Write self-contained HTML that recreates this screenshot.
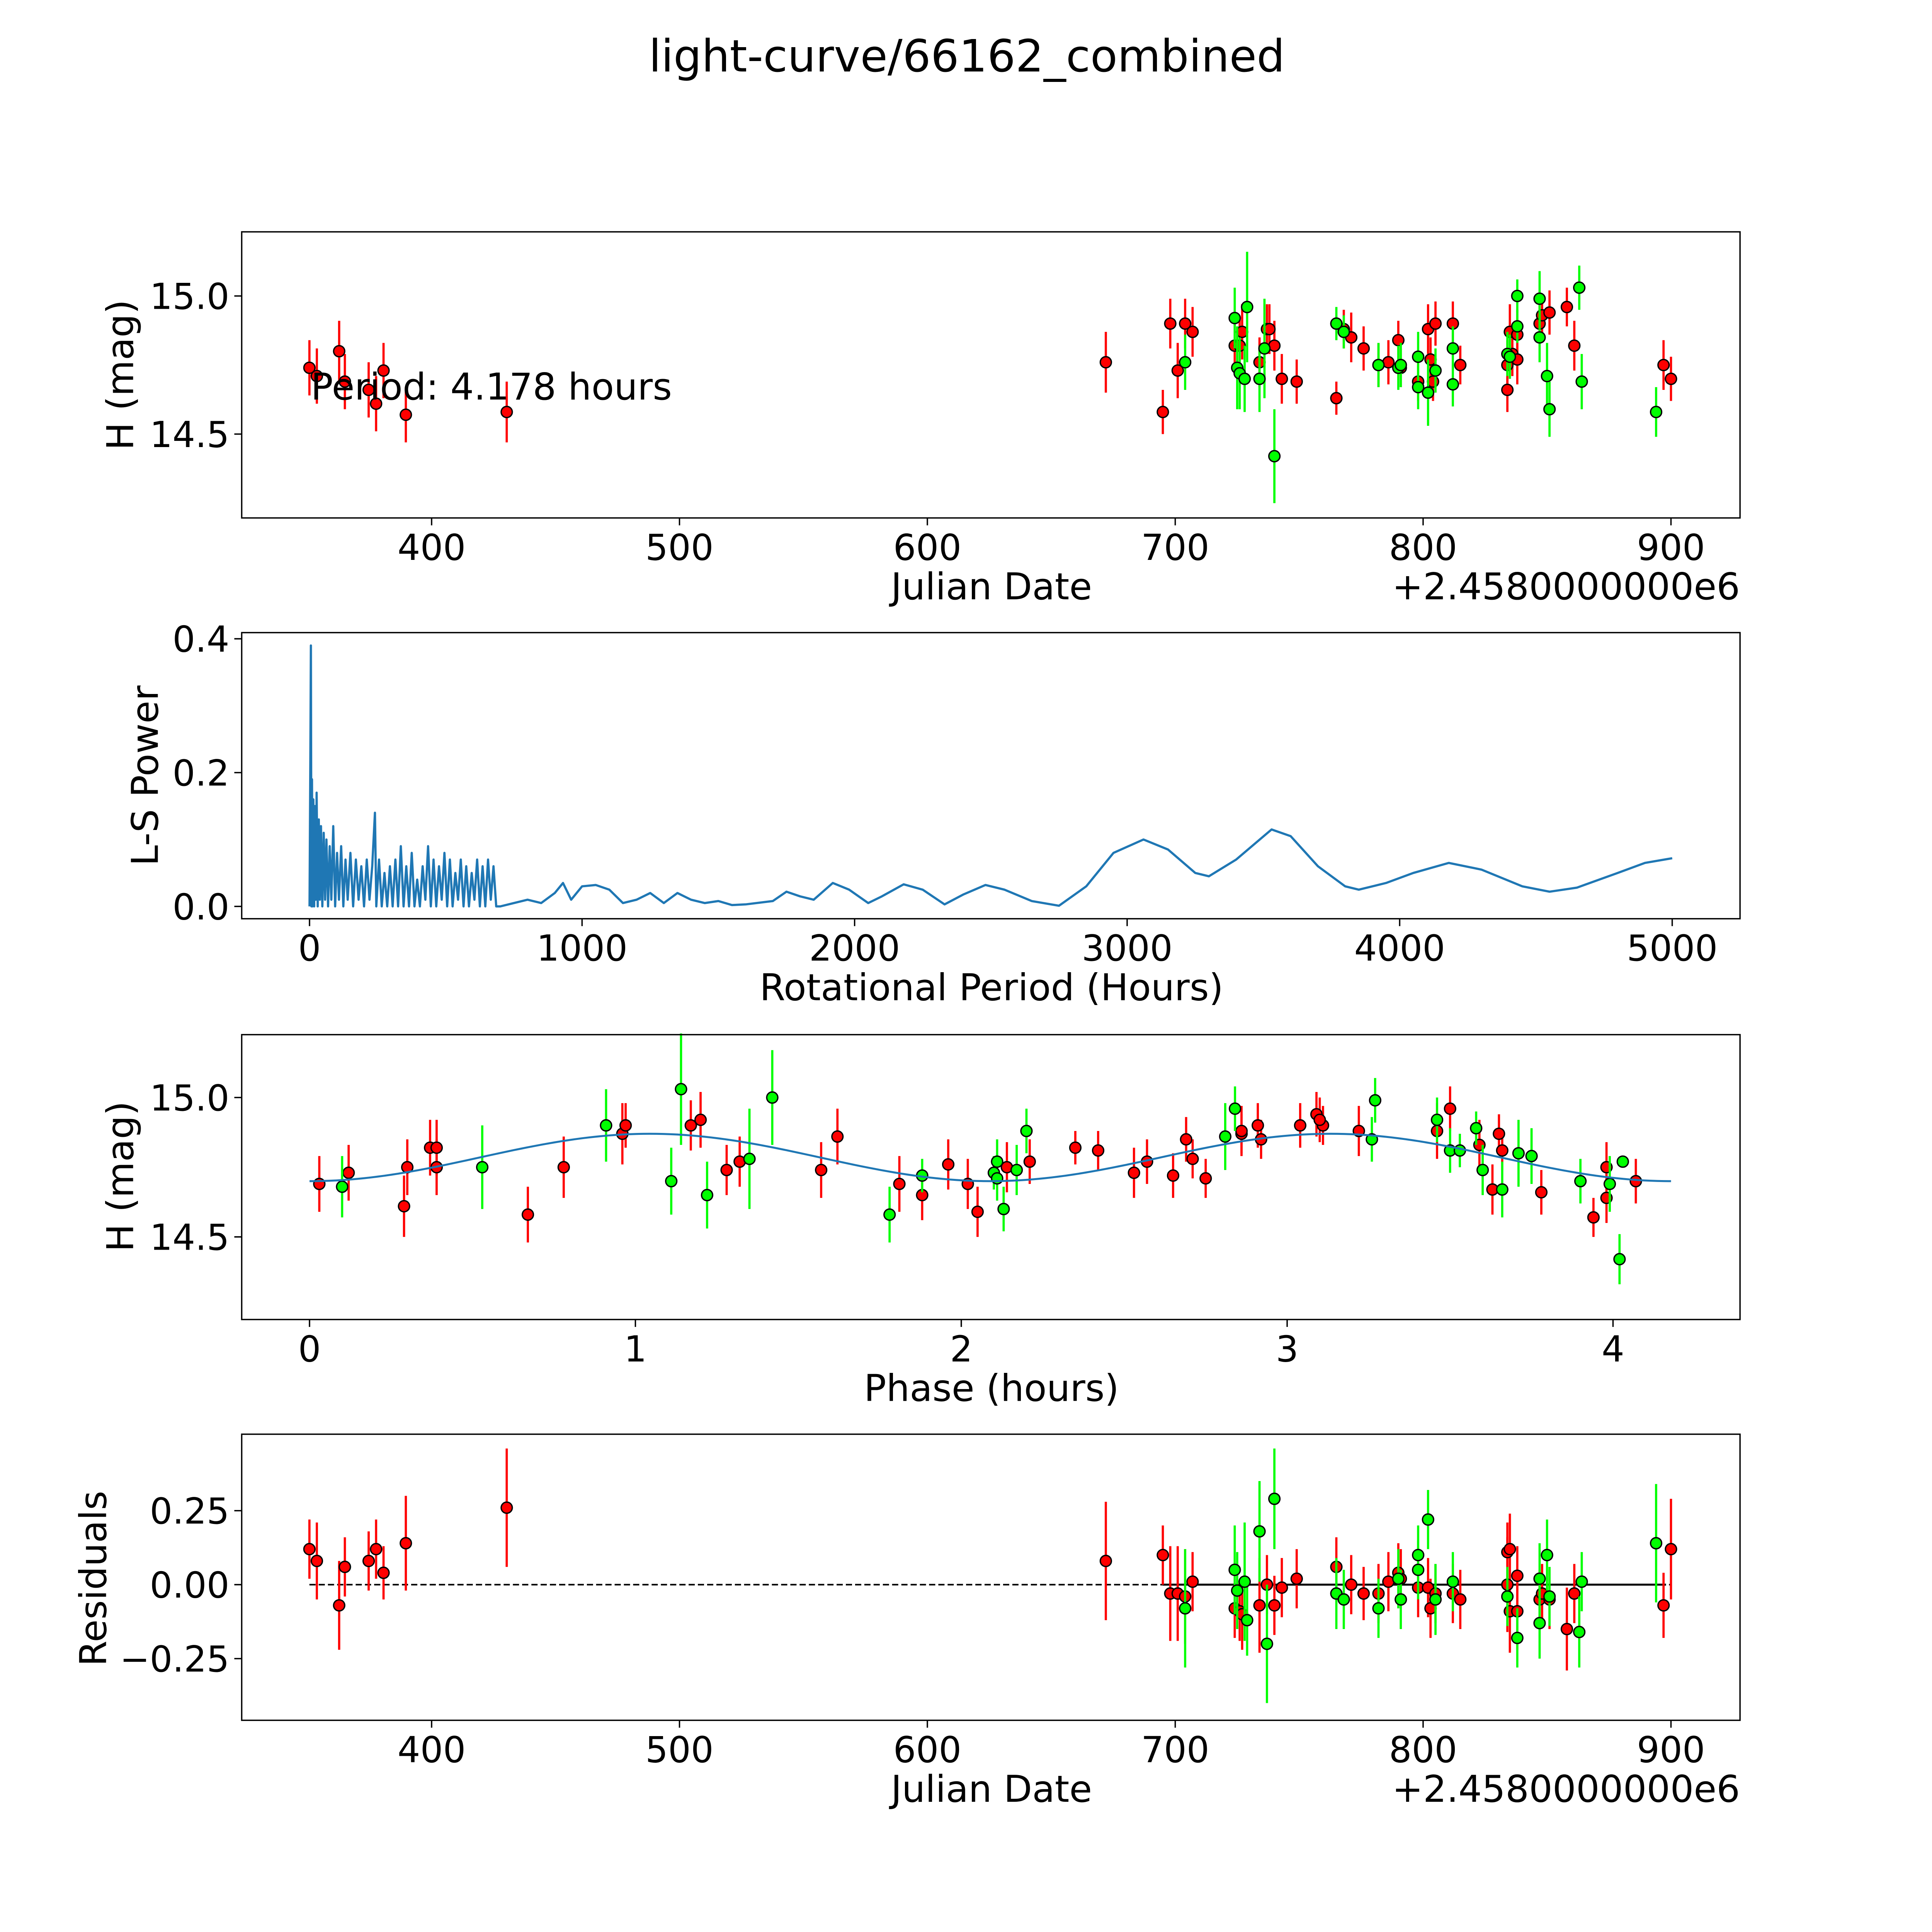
<!DOCTYPE html>
<html><head><meta charset="utf-8">
<style>
html,body{margin:0;padding:0;background:#fff;overflow:hidden;}
#fig{display:block;font-family:"DejaVu Sans","Liberation Sans",sans-serif;}
</style></head>
<body>
<svg id="fig" xmlns="http://www.w3.org/2000/svg" width="5400" height="5400" viewBox="0 0 1692 1692">
<rect x="0" y="0" width="1692" height="1692" fill="#fff"/>
<text x="784" y="58" font-size="36" text-anchor="middle">light-curve/66162_combined</text>
</svg>
<script>
// ---------- DATA ----------
const redJD = [350.7,353.7,362.7,365,374.6,377.6,380.6,389.6,430.3,672,695,698,701,704,707,724,726,727,734,737,738,740,743,749,765,768,771,776,782,786,790,791,798,802,803,804,805,812,815,834,834,835,836,838,838,847,848,851,858,861,897,900];
const redMag = [14.74,14.71,14.80,14.69,14.66,14.61,14.73,14.57,14.58,14.76,14.58,14.90,14.73,14.90,14.87,14.82,14.82,14.87,14.76,14.88,14.88,14.82,14.70,14.69,14.63,14.88,14.85,14.81,14.75,14.76,14.84,14.74,14.69,14.88,14.77,14.69,14.90,14.90,14.75,14.66,14.75,14.87,14.79,14.86,14.77,14.90,14.93,14.94,14.96,14.82,14.75,14.70];
const redErr = [0.1,0.1,0.11,0.1,0.1,0.1,0.1,0.1,0.11,0.11,0.08,0.09,0.1,0.09,0.09,0.1,0.1,0.1,0.09,0.09,0.09,0.09,0.09,0.08,0.06,0.07,0.09,0.08,0.08,0.08,0.07,0.07,0.07,0.09,0.08,0.07,0.08,0.08,0.07,0.08,0.09,0.1,0.08,0.09,0.09,0.07,0.07,0.08,0.07,0.09,0.09,0.08];
const grnJD = [724,725,726,728,729,734,736,740,704,765,768,782,790,791,798,798,802,805,812,812,834,835,838,838,847,847,850,851,863,864,894];
const grnMag = [14.92,14.74,14.72,14.70,14.96,14.70,14.81,14.42,14.76,14.90,14.87,14.75,14.74,14.75,14.78,14.67,14.65,14.73,14.81,14.68,14.79,14.78,14.89,15.00,14.85,14.99,14.71,14.59,15.03,14.69,14.58];
const grnErr = [0.11,0.15,0.13,0.12,0.2,0.12,0.18,0.17,0.1,0.06,0.06,0.08,0.08,0.08,0.09,0.08,0.12,0.08,0.08,0.08,0.08,0.08,0.06,0.06,0.09,0.1,0.12,0.1,0.08,0.1,0.09];
const periodLabel = "Period: 4.178 hours";

const lsPeriod = [0,3,5,7,9,11,14,17,20,23,26,30,34,38,42,47,52,57,62,68,74,80,87,94,101,108,116,124,132,140,150,160,170,180,190,200,210,220,230,240,245,255,265,275,285,295,305,315,325,335,345,355,365,375,385,395,405,415,425,435,445,455,465,475,485,495,505,515,525,535,545,555,565,575,585,595,605,615,625,635,645,655,665,675,685,700,750,800,850,900,930,960,1000,1050,1100,1150,1200,1250,1300,1350,1400,1450,1500,1550,1600,1700,1750,1800,1850,1920,1980,2050,2100,2180,2250,2330,2400,2480,2550,2650,2750,2850,2950,3060,3150,3250,3300,3400,3530,3600,3700,3800,3850,3950,4050,4180,4300,4450,4550,4650,4800,4900,5000];
const lsPower = [0,0.22,0.39,0,0.19,0,0.16,0,0.15,0.01,0.17,0,0.13,0.01,0.12,0,0.11,0.01,0.1,0,0.09,0.01,0.12,0,0.08,0.01,0.09,0,0.07,0.01,0.08,0,0.07,0.01,0.06,0,0.07,0.01,0.06,0.14,0,0.07,0,0.05,0,0.06,0,0.07,0,0.09,0,0.06,0,0.08,0,0.04,0,0.06,0.01,0.09,0,0.07,0,0.06,0.01,0.08,0,0.07,0,0.05,0.01,0.07,0,0.06,0,0.05,0.01,0.07,0,0.06,0,0.07,0.01,0.06,0,0.0,0.005,0.01,0.005,0.02,0.035,0.01,0.03,0.032,0.025,0.005,0.01,0.02,0.005,0.02,0.01,0.005,0.008,0.002,0.003,0.008,0.022,0.015,0.01,0.035,0.025,0.005,0.015,0.033,0.025,0.003,0.018,0.032,0.025,0.008,0.001,0.03,0.08,0.10,0.085,0.05,0.045,0.07,0.115,0.105,0.06,0.03,0.025,0.035,0.05,0.065,0.055,0.03,0.022,0.028,0.05,0.065,0.072];

const redPhase = [0.03,0.12,0.29,0.30,0.37,0.39,0.39,0.67,0.78,0.96,0.97,1.17,1.20,1.28,1.32,1.57,1.62,1.81,1.88,1.96,2.02,2.05,2.14,2.21,2.35,2.42,2.53,2.57,2.65,2.69,2.71,2.75,2.86,2.86,2.91,2.92,3.04,3.09,3.11,3.10,3.22,3.46,3.50,3.59,3.63,3.65,3.66,3.78,3.94,3.98,3.98,4.07];
const redPhMag = [14.69,14.73,14.61,14.75,14.82,14.82,14.75,14.58,14.75,14.87,14.90,14.90,14.92,14.74,14.77,14.74,14.86,14.69,14.65,14.76,14.69,14.59,14.75,14.77,14.82,14.81,14.73,14.77,14.72,14.85,14.78,14.71,14.87,14.88,14.90,14.85,14.90,14.94,14.90,14.92,14.88,14.88,14.96,14.83,14.67,14.87,14.81,14.66,14.57,14.64,14.75,14.70];
const grnPhase = [0.10,0.53,0.91,1.11,1.14,1.22,1.35,1.42,1.78,1.88,2.10,2.11,2.11,2.13,2.17,2.20,2.81,2.84,3.26,3.27,3.46,3.50,3.53,3.58,3.60,3.66,3.71,3.75,3.90,3.99,4.02,4.03];
const grnPhMag = [14.68,14.75,14.90,14.70,15.03,14.65,14.78,15.00,14.58,14.72,14.73,14.77,14.71,14.60,14.74,14.88,14.86,14.96,14.85,14.99,14.92,14.81,14.81,14.89,14.74,14.67,14.80,14.79,14.70,14.69,14.42,14.77];
const modelMean = [14.785];
const modelAmp = [0.085];
const modelHalfPeriod = [2.089];

const redResJD = [350.7,353.7,362.7,365,374.6,377.6,380.6,389.6,430.3,672,695,698,701,704,707,724,726,727,734,737,740,743,749,765,771,776,782,786,790,791,798,802,803,805,812,815,834,834,835,835,838,838,847,848,851,858,861,897,900];
const redRes = [0.12,0.08,-0.07,0.06,0.08,0.12,0.04,0.14,0.26,0.08,0.10,-0.03,-0.03,-0.04,0.01,-0.08,-0.09,-0.10,-0.07,0.00,-0.07,-0.01,0.02,0.06,0.00,-0.03,-0.03,0.01,0.04,0.02,-0.01,-0.01,-0.08,-0.03,-0.03,-0.05,0.11,0.00,0.12,-0.09,0.03,-0.09,-0.05,-0.03,-0.05,-0.15,-0.03,-0.07,0.12];
const redResErr = [0.1,0.13,0.15,0.1,0.1,0.1,0.09,0.16,0.2,0.2,0.1,0.16,0.16,0.16,0.1,0.1,0.1,0.12,0.16,0.1,0.1,0.1,0.1,0.1,0.1,0.09,0.1,0.1,0.1,0.1,0.1,0.1,0.1,0.1,0.1,0.1,0.1,0.16,0.12,0.14,0.1,0.13,0.1,0.1,0.1,0.14,0.1,0.11,0.17];
const grnResJD = [724,725,728,729,704,734,737,740,765,768,782,790,791,798,798,802,805,812,834,838,847,847,850,851,863,864,894];
const grnRes = [0.05,-0.02,0.01,-0.12,-0.08,0.18,-0.20,0.29,-0.03,-0.05,-0.08,0.02,-0.05,0.10,0.05,0.22,-0.05,0.01,-0.04,-0.18,0.02,-0.13,0.10,-0.04,-0.16,0.01,0.14];
const grnResErr = [0.15,0.13,0.2,0.12,0.2,0.17,0.2,0.17,0.12,0.1,0.1,0.1,0.1,0.1,0.1,0.1,0.12,0.1,0.1,0.1,0.12,0.12,0.12,0.1,0.12,0.1,0.2];

// ---------- DRAWING ----------
const svg = document.getElementById('fig');
const NS = 'http://www.w3.org/2000/svg';
function mk(tag, attrs, parent){
  const e = document.createElementNS(NS, tag);
  for (const k in attrs) e.setAttribute(k, attrs[k]);
  (parent||svg).appendChild(e);
  return e;
}
function lin(d0,d1,p0,p1){ return v => p0 + (v-d0)*(p1-p0)/(d1-d0); }

const L=196, R=1411;
const P1={t:188,b:420}, P2={t:513,b:745}, P3={t:839,b:1070}, P4={t:1163,b:1395};
const xJD = lin(400,900,350,1355);
const y1 = lin(15,14.5,240,352);
const xLS = lin(0,5000,251,1356);
const y2 = lin(0,0.4,735,518);
const xPh = lin(0,4,251,1308);
const y3 = lin(15,14.5,890,1003);
const y4 = lin(0,0.25,1285,1225);
const TICK_FS = 29, LAB_FS = 30;

function frame(P,name){
  const r = mk('rect',{x:L,y:P.t,width:R-L,height:P.b-P.t,fill:'none',stroke:'#000','stroke-width':1.1});
  
  
}
function xticks(P,vals,labels,xf,name){
  const g = mk('g',{});
  
  
  vals.forEach((v,i)=>{
    const x=xf(v);
    mk('line',{x1:x,x2:x,y1:P.b,y2:P.b+6,stroke:'#000','stroke-width':1.1},g);
    const t=mk('text',{x:x,y:P.b+34,'font-size':TICK_FS,'text-anchor':'middle'},g);
    t.textContent=labels[i];
  });
}
function yticks(P,vals,labels,yf,name){
  const g = mk('g',{});
  
  
  vals.forEach((v,i)=>{
    const y=yf(v);
    mk('line',{x1:L-6,x2:L,y1:y,y2:y,stroke:'#000','stroke-width':1.1},g);
    const t=mk('text',{x:L-10,y:y+10.5,'font-size':TICK_FS,'text-anchor':'end'},g);
    t.textContent=labels[i];
  });
}
function label(txt,x,y,rot,name){
  const t=mk('text',{x:x,y:y,'font-size':LAB_FS,'text-anchor':'middle',transform:rot?`rotate(-90 ${x} ${y})`:''});
  t.textContent=txt;
  
  
}
function points(xs,ys,errs,xf,yf,color,name){
  const g=mk('g',{});
  
  
  xs.forEach((xv,i)=>{
    const x=xf(xv);
    if(errs){
      const e=errs[i];
      mk('line',{x1:x,x2:x,y1:yf(ys[i]-e),y2:yf(ys[i]+e),stroke:color,'stroke-width':1.8},g);
    }
  });
  xs.forEach((xv,i)=>{
    const c=mk('circle',{cx:xf(xv),cy:yf(ys[i]),r:4.5,fill:color,stroke:'#000','stroke-width':1.1},g);
    
    
  });
}

// Panel 1
points(redJD,redMag,redErr,xJD,y1,'#ff0000','red-observations');
points(grnJD,grnMag,grnErr,xJD,y1,'#00ff00','green-observations');
const pl=mk('text',{x:252,y:324,'font-size':LAB_FS});
pl.textContent=periodLabel;


frame(P1,'light-curve-axes');
xticks(P1,[400,500,600,700,800,900],['400','500','600','700','800','900'],xJD,'x-ticks-julian');
yticks(P1,[15.0,14.5],['15.0','14.5'],y1,'y-ticks-mag');
label('Julian Date',804,486,false,'x-axis-title-julian');
const off1=mk('text',{x:R,y:486,'font-size':LAB_FS,'text-anchor':'end'});off1.textContent='+2.4580000000e6';


label('H (mag)',108,304,true,'y-axis-title-mag');

// Panel 2
let d='';
lsPeriod.forEach((p,i)=>{ d+=(i?'L':'M')+xLS(p).toFixed(2)+' '+y2(lsPower[i]).toFixed(2); });
const ls=mk('path',{d:d,fill:'none',stroke:'#1f77b4','stroke-width':1.8,'stroke-linejoin':'round'});


frame(P2,'periodogram-axes');
xticks(P2,[0,1000,2000,3000,4000,5000],['0','1000','2000','3000','4000','5000'],xLS,'x-ticks-period');
yticks(P2,[0,0.2,0.4],['0.0','0.2','0.4'],y2,'y-ticks-power');
label('Rotational Period (Hours)',804,811,false,'x-axis-title-period');
label('L-S Power',128,629,true,'y-axis-title-power');

// Panel 3
let dm='';
for(let k=0;k<=200;k++){
  const t=4.178*k/200;
  const m=modelMean[0]-modelAmp[0]*Math.cos(2*Math.PI*t/modelHalfPeriod[0]);
  dm+=(k?'L':'M')+xPh(t).toFixed(2)+' '+y3(m).toFixed(2);
}
points(redPhase,redPhMag,redErr,xPh,y3,'#ff0000','red-phased-observations');
points(grnPhase,grnPhMag,grnErr,xPh,y3,'#00ff00','green-phased-observations');
const mdl=mk('path',{d:dm,fill:'none',stroke:'#1f77b4','stroke-width':1.6});


frame(P3,'phase-axes');
xticks(P3,[0,1,2,3,4],['0','1','2','3','4'],xPh,'x-ticks-phase');
yticks(P3,[15.0,14.5],['15.0','14.5'],y3,'y-ticks-phase-mag');
label('Phase (hours)',804,1136,false,'x-axis-title-phase');
label('H (mag)',108,954,true,'y-axis-title-phase-mag');

// Panel 4
const zd=mk('line',{x1:xJD(350.7),x2:xJD(900),y1:y4(0),y2:y4(0),stroke:'#000','stroke-width':1.3,'stroke-dasharray':'5 2.5'});


const zs=mk('line',{x1:xJD(695),x2:xJD(898),y1:y4(0),y2:y4(0),stroke:'#000','stroke-width':1.6});


points(redResJD,redRes,redResErr,xJD,y4,'#ff0000','red-residuals');
points(grnResJD,grnRes,grnResErr,xJD,y4,'#00ff00','green-residuals');
frame(P4,'residuals-axes');
xticks(P4,[400,500,600,700,800,900],['400','500','600','700','800','900'],xJD,'x-ticks-julian-residuals');
yticks(P4,[-0.25,0,0.25],['\u22120.25','0.00','0.25'],y4,'y-ticks-residuals');
label('Julian Date',804,1461,false,'x-axis-title-julian-residuals');
const off4=mk('text',{x:R,y:1461,'font-size':LAB_FS,'text-anchor':'end'});off4.textContent='+2.4580000000e6';


label('Residuals',86,1280,true,'y-axis-title-residuals');
</script>
</body></html>
